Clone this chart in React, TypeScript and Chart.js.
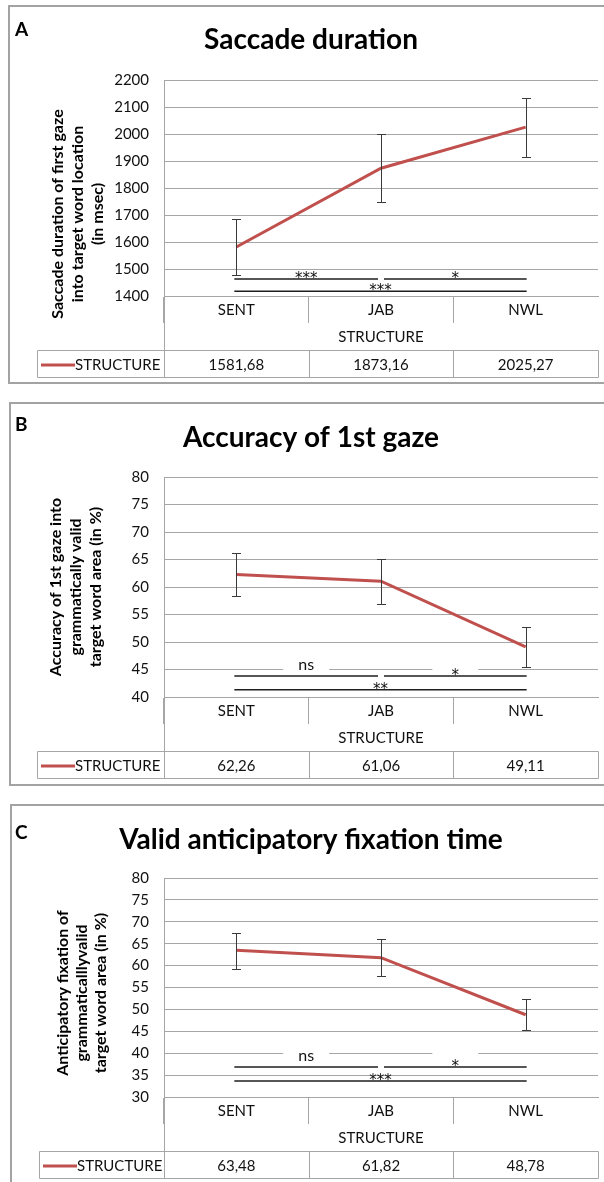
import React, { useEffect, useRef } from 'react';
import { Chart, registerables } from 'chart.js';

Chart.register(...registerables);

// ---------------- data ----------------
const categories = ['SENT', 'JAB', 'NWL'];
const xAxisTitle = 'STRUCTURE';
const seriesLabel = 'STRUCTURE';

// Panel A
const titleA = 'Saccade duration';
const yTitleA = ['Saccade duration of first gaze', 'into target word location', '(in msec)'];
const valuesA = [1581.68, 1873.16, 2025.27];
const errLowA = [1477, 1750, 1916];
const errHighA = [1685, 2000, 2134];
const tableA = ['1581,68', '1873,16', '2025,27'];
const yMinA = 1400;
const yMaxA = 2200;
const yStepA = 100;
const sigFromA = [0, 1, 0];
const sigToA = [1, 2, 2];
const sigLevelA = [1463, 1463, 1418];
const sigTextA = ['***', '*', '***'];

// Panel B
const titleB = 'Accuracy of 1st gaze';
const yTitleB = ['Accuracy of 1st gaze into', 'grammatically valid', 'target word area (in %)'];
const valuesB = [62.26, 61.06, 49.11];
const errLowB = [58.4, 56.9, 45.4];
const errHighB = [66.2, 65.1, 52.7];
const tableB = ['62,26', '61,06', '49,11'];
const yMinB = 40;
const yMaxB = 80;
const yStepB = 5;
const sigFromB = [0, 1, 0];
const sigToB = [1, 2, 2];
const sigLevelB = [43.8, 43.8, 41.3];
const sigTextB = ['ns', '*', '**'];

// Panel C
const titleC = 'Valid anticipatory fixation time';
const yTitleC = ['Anticipatory fixation of', 'grammaticalllyvalid', 'target word area (in %)'];
const valuesC = [63.48, 61.82, 48.78];
const errLowC = [59.2, 57.6, 45.3];
const errHighC = [67.5, 66.1, 52.3];
const tableC = ['63,48', '61,82', '48,78'];
const yMinC = 30;
const yMaxC = 80;
const yStepC = 5;
const sigFromC = [0, 1, 0];
const sigToC = [1, 2, 2];
const sigLevelC = [36.85, 36.85, 33.65];
const sigTextC = ['ns', '*', '***'];

// ---------------- styles ----------------
const FONT = 'Lato, "Open Sans", "DejaVu Sans", sans-serif';
const STAR_FONT = '"DejaVu Sans", Lato, sans-serif';
const RED = '#c0504d';
const GRID = '#a6a6a6';
const TEXT = '#111111';
const ERR = '#3a3a3a';
const SIG = '#1e1e1e';
const CANVAS_W = 622;
const PAD_L = 24;
const PAD_R = 24;
const PLOT_LEFT = 164;
const XSCALE_H = 84;

type PanelDef = {
  letter: string;
  title: string;
  yTitle: string[];
  values: number[];
  errLow: number[];
  errHigh: number[];
  table: string[];
  yMin: number;
  yMax: number;
  yStep: number;
  sigFrom: number[];
  sigTo: number[];
  sigLevel: number[];
  sigText: string[];
  labelBoxes: boolean;
  // layout (page pixels)
  borderLeft: number;
  borderTop: number;
  borderBottom: number;
  titleY: number;
  chartTop: number;
  chartBottom: number;
  letterY: number;
  yTitleX: number;
  yTitleGap: number;
  yTitleCY: number;
  tableLeft: number;
};

const panels: PanelDef[] = [
  {
    letter: 'A', title: titleA, yTitle: yTitleA, values: valuesA, errLow: errLowA, errHigh: errHighA,
    table: tableA, yMin: yMinA, yMax: yMaxA, yStep: yStepA,
    sigFrom: sigFromA, sigTo: sigToA, sigLevel: sigLevelA, sigText: sigTextA, labelBoxes: false,
    borderLeft: 8, borderTop: 5, borderBottom: 384, titleY: 40, chartTop: 80, chartBottom: 296,
    letterY: 30, yTitleX: 58, yTitleGap: 20, yTitleCY: 214, tableLeft: 37,
  },
  {
    letter: 'B', title: titleB, yTitle: yTitleB, values: valuesB, errLow: errLowB, errHigh: errHighB,
    table: tableB, yMin: yMinB, yMax: yMaxB, yStep: yStepB,
    sigFrom: sigFromB, sigTo: sigToB, sigLevel: sigLevelB, sigText: sigTextB, labelBoxes: true,
    borderLeft: 9, borderTop: 402, borderBottom: 786, titleY: 438, chartTop: 477, chartBottom: 697,
    letterY: 425, yTitleX: 56, yTitleGap: 20, yTitleCY: 587, tableLeft: 37,
  },
  {
    letter: 'C', title: titleC, yTitle: yTitleC, values: valuesC, errLow: errLowC, errHigh: errHighC,
    table: tableC, yMin: yMinC, yMax: yMaxC, yStep: yStepC,
    sigFrom: sigFromC, sigTo: sigToC, sigLevel: sigLevelC, sigText: sigTextC, labelBoxes: true,
    borderLeft: 10, borderTop: 804, borderBottom: 1210, titleY: 840, chartTop: 878, chartBottom: 1097,
    letterY: 833, yTitleX: 63, yTitleGap: 19, yTitleCY: 993, tableLeft: 39,
  },
];

const crisp = (v: number) => Math.round(v) + 0.5;

function makeOverlay(p: PanelDef) {
  const top = p.borderTop;
  return {
    id: 'overlay' + p.letter,
    afterDatasetsDraw(chart: any) {
      const { ctx } = chart;
      const xs = chart.scales.x;
      const ys = chart.scales.y;
      ctx.save();
      ctx.strokeStyle = ERR;
      ctx.lineWidth = 1;
      p.values.forEach((_v, i) => {
        const x = crisp(xs.getPixelForValue(i));
        const y1 = crisp(ys.getPixelForValue(p.errHigh[i]));
        const y2 = crisp(ys.getPixelForValue(p.errLow[i]));
        ctx.beginPath();
        ctx.moveTo(x, y1);
        ctx.lineTo(x, y2);
        ctx.moveTo(x - 4.5, y1);
        ctx.lineTo(x + 4.5, y1);
        ctx.moveTo(x - 4.5, y2);
        ctx.lineTo(x + 4.5, y2);
        ctx.stroke();
      });
      ctx.restore();
    },
    afterDraw(chart: any) {
      const { ctx, chartArea } = chart;
      const xs = chart.scales.x;
      const ys = chart.scales.y;
      const n = categories.length;
      ctx.save();

      // significance bars
      ctx.textAlign = 'center';
      ctx.textBaseline = 'alphabetic';
      p.sigFrom.forEach((from, k) => {
        const to = p.sigTo[k];
        const x1 = xs.getPixelForValue(from) - 2 + (from > 0 ? 5 : 0);
        const x2 = xs.getPixelForValue(to) + 1 - (to < n - 1 ? 4 : 0);
        const y = ys.getPixelForValue(p.sigLevel[k]);
        const cx = (x1 + x2) / 2;
        const isLong = from === 0 && to === n - 1;
        if (p.labelBoxes && !isLong) {
          ctx.fillStyle = '#ffffff';
          ctx.fillRect(cx - 23, y - 20, 46, 17);
        }
        ctx.fillStyle = TEXT;
        const text = p.sigText[k];
        if (text === 'ns') {
          ctx.font = `16px ${FONT}`;
          ctx.fillText(text, cx, y - 6);
        } else {
          ctx.font = `15px ${STAR_FONT}`;
          ctx.fillText(text, cx, y + 4);
        }
        ctx.strokeStyle = SIG;
        ctx.lineWidth = 1.5;
        ctx.beginPath();
        ctx.moveTo(x1, y);
        ctx.lineTo(x2, y);
        ctx.stroke();
      });

      // data table
      const cb = chartArea.bottom;
      const tTop = crisp(cb + 54);
      const tBot = crisp(cb + 81);
      const left = crisp(chartArea.left);
      const right = crisp(chartArea.right);
      const bounds: number[] = [left];
      for (let i = 0; i < n - 1; i++) {
        bounds.push(crisp((xs.getPixelForValue(i) + xs.getPixelForValue(i + 1)) / 2));
      }
      bounds.push(right);
      const tl = crisp(p.tableLeft);
      ctx.strokeStyle = GRID;
      ctx.lineWidth = 1;
      ctx.beginPath();
      ctx.moveTo(tl, tTop);
      ctx.lineTo(right, tTop);
      ctx.moveTo(tl, tBot);
      ctx.lineTo(right, tBot);
      ctx.moveTo(tl, tTop);
      ctx.lineTo(tl, tBot);
      // y axis extension down to table bottom
      ctx.moveTo(left, cb);
      ctx.lineTo(left, tBot);
      for (let i = 1; i < bounds.length; i++) {
        ctx.moveTo(bounds[i], tTop);
        ctx.lineTo(bounds[i], tBot);
      }
      ctx.stroke();

      const rowY = (tTop + tBot) / 2 + 1;
      ctx.strokeStyle = RED;
      ctx.lineWidth = 3;
      ctx.beginPath();
      ctx.moveTo(p.tableLeft + 4, rowY);
      ctx.lineTo(p.tableLeft + 38, rowY);
      ctx.stroke();
      ctx.fillStyle = TEXT;
      ctx.font = `15px ${FONT}`;
      ctx.textBaseline = 'middle';
      ctx.textAlign = 'left';
      ctx.fillText(seriesLabel, p.tableLeft + 38, rowY);
      ctx.textAlign = 'center';
      p.table.forEach((t, i) => {
        ctx.fillText(t, xs.getPixelForValue(i), rowY);
      });

      // y axis title (rotated, bold, three lines)
      ctx.fillStyle = '#000';
      ctx.font = `bold 16px ${FONT}`;
      ctx.textAlign = 'center';
      ctx.textBaseline = 'middle';
      p.yTitle.forEach((line, i) => {
        ctx.save();
        ctx.translate(p.yTitleX + i * p.yTitleGap, p.yTitleCY - top);
        ctx.rotate(-Math.PI / 2);
        ctx.fillText(line, 0, 0);
        ctx.restore();
      });

      // panel letter
      ctx.font = `bold 19px ${FONT}`;
      ctx.textAlign = 'left';
      ctx.textBaseline = 'middle';
      ctx.fillText(p.letter, 15, p.letterY - top);

      ctx.restore();
    },
  };
}

function Panel({ p }: { p: PanelDef }) {
  const ref = useRef<HTMLCanvasElement>(null);
  const canvasTop = p.borderTop;
  const H = p.chartBottom - canvasTop + XSCALE_H + 4;

  useEffect(() => {
    const canvas = ref.current;
    if (!canvas) return;
    const titleSize = 28;
    const titleLH = titleSize * 1.2;
    const tPadTop = p.titleY - canvasTop - titleLH / 2;
    const tPadBottom = p.chartTop - canvasTop - tPadTop - titleLH;
    const padBottom = H - (p.chartBottom - canvasTop) - XSCALE_H;
    const tickFont = { family: FONT, size: 15 };

    const chart = new Chart(canvas, {
      type: 'line',
      data: {
        labels: categories,
        datasets: [
          {
            label: seriesLabel,
            data: p.values,
            borderColor: RED,
            backgroundColor: RED,
            borderWidth: 3,
            pointRadius: 0,
            pointHoverRadius: 0,
            tension: 0,
            fill: false,
          },
        ],
      },
      options: {
        responsive: false,
        animation: false,
        devicePixelRatio: 1,
        events: [],
        layout: { padding: { left: PAD_L, right: PAD_R, top: 0, bottom: padBottom } },
        plugins: {
          legend: { display: false },
          tooltip: { enabled: false },
          title: {
            display: true,
            text: p.title,
            color: '#000',
            font: { family: FONT, size: titleSize, weight: 'bold', lineHeight: 1.2 },
            padding: { top: tPadTop, bottom: tPadBottom },
          },
        },
        scales: {
          x: {
            type: 'category',
            offset: true,
            grid: {
              display: true,
              offset: true,
              drawOnChartArea: false,
              drawTicks: true,
              tickLength: 27,
              color: (c: any) => (typeof c.index === 'number' ? GRID : 'rgba(0,0,0,0)'),
              lineWidth: 1,
            },
            border: { display: true, color: GRID, width: 1 },
            ticks: { font: tickFont, color: TEXT, padding: -22, maxRotation: 0, autoSkip: false },
            title: {
              display: true,
              text: xAxisTitle,
              color: TEXT,
              font: { family: FONT, size: 15, lineHeight: 1.2 },
              padding: { top: 0, bottom: XSCALE_H - 41 - 9 },
            },
            afterFit: (s: any) => {
              s.height = XSCALE_H;
            },
          },
          y: {
            min: p.yMin,
            max: p.yMax,
            ticks: {
              stepSize: p.yStep,
              font: tickFont,
              color: TEXT,
              padding: 15,
              callback: (v: any) => String(v),
            },
            grid: { color: GRID, lineWidth: 1, drawTicks: false },
            border: { display: true, color: GRID, width: 1 },
            afterFit: (s: any) => {
              s.width = PLOT_LEFT - PAD_L;
            },
          },
        },
      } as any,
      plugins: [makeOverlay(p)],
    });
    return () => chart.destroy();
  }, []);

  return (
    <>
      <div
        style={{
          position: 'absolute',
          left: p.borderLeft,
          top: p.borderTop,
          width: 700,
          height: p.borderBottom - p.borderTop,
          border: '2px solid #a3a3a3',
          boxSizing: 'border-box',
        }}
      />
      <canvas
        ref={ref}
        width={CANVAS_W}
        height={H}
        style={{ position: 'absolute', left: 0, top: canvasTop, width: CANVAS_W, height: H }}
      />
    </>
  );
}

export default function App() {
  return (
    <div
      style={{
        position: 'absolute',
        left: 0,
        top: 0,
        width: 604,
        height: 1182,
        overflow: 'hidden',
        background: '#ffffff',
      }}
    >
      {panels.map((p) => (
        <Panel key={p.letter} p={p} />
      ))}
    </div>
  );
}
